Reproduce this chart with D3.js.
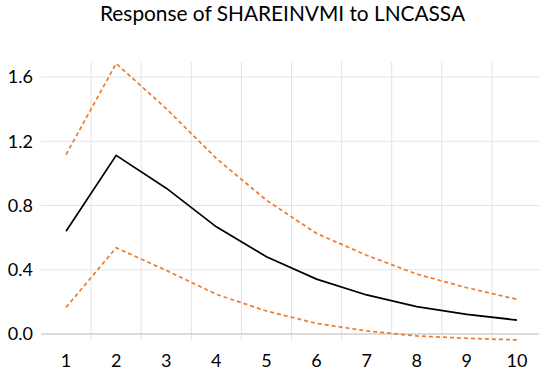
<!DOCTYPE html>
<html>
<head>
<meta charset="utf-8">
<script src="https://cdn.jsdelivr.net/npm/d3@7"></script>
<style>
  html, body { margin: 0; padding: 0; background: #fff; }
  svg { display: block; }
</style>
</head>
<body>
<svg id="chart" width="539" height="378"></svg>
<script>
const title = "Response of SHAREINVMI to LNCASSA";
const periods = [1, 2, 3, 4, 5, 6, 7, 8, 9, 10];
const response = [0.64, 1.112, 0.908, 0.667, 0.481, 0.342, 0.243, 0.170, 0.122, 0.087];
const upperBand = [1.117, 1.684, 1.403, 1.093, 0.833, 0.626, 0.490, 0.373, 0.288, 0.216];
const lowerBand = [0.166, 0.537, 0.396, 0.247, 0.143, 0.066, 0.019, -0.012, -0.027, -0.037];
const yTicks = [0.0, 0.4, 0.8, 1.2, 1.6];

const svg = d3.select("#chart");
const font = "Lato, 'Open Sans', sans-serif";

const x = d3.scaleBand().domain(periods).range([41, 542]).paddingInner(0).paddingOuter(0);
const xc = d => x(d) + x.bandwidth() / 2;
const y = d3.scaleLinear().domain([0, 1.6]).range([334, 77]);
const plotTop = 62;

// title
svg.append("text")
  .attr("x", 282.5).attr("y", 21)
  .attr("text-anchor", "middle")
  .attr("font-family", font)
  .attr("font-size", 22)
  .attr("fill", "#000")
  .attr("textLength", 365)
  .attr("lengthAdjust", "spacingAndGlyphs")
  .text(title);

// horizontal gridlines
svg.append("g").selectAll("line").data(yTicks.filter(t => t !== 0)).join("line")
  .attr("x1", 41).attr("x2", 539)
  .attr("y1", d => y(d)).attr("y2", d => y(d))
  .attr("stroke", "#e4e4e4").attr("stroke-width", 1);

// vertical gridlines at category boundaries (except first)
svg.append("g").selectAll("line").data(periods.slice(1)).join("line")
  .attr("x1", d => x(d)).attr("x2", d => x(d))
  .attr("y1", plotTop).attr("y2", 340)
  .attr("stroke", "#e4e4e4").attr("stroke-width", 1);

// zero axis line
svg.append("line")
  .attr("x1", 41).attr("x2", 539)
  .attr("y1", y(0)).attr("y2", y(0))
  .attr("stroke", "#cfcfcf").attr("stroke-width", 1.5);

// y tick labels
svg.append("g").selectAll("text").data(yTicks).join("text")
  .attr("x", 33).attr("y", d => y(d))
  .attr("dy", "0.36em")
  .attr("text-anchor", "end")
  .attr("font-family", font)
  .attr("font-size", 18)
  .attr("fill", "#000")
  .text(d => d3.format(".1f")(d));

// x tick labels
svg.append("g").selectAll("text").data(periods).join("text")
  .attr("x", d => xc(d)).attr("y", 367)
  .attr("text-anchor", "middle")
  .attr("font-family", font)
  .attr("font-size", 18)
  .attr("fill", "#000")
  .text(d => d);

const line = d3.line().x((d, i) => xc(periods[i])).y(d => y(d));

svg.append("path").datum(upperBand)
  .attr("d", line).attr("fill", "none")
  .attr("stroke", "#ED7D31").attr("stroke-width", 1.75)
  .attr("stroke-dasharray", "4,3");

svg.append("path").datum(lowerBand)
  .attr("d", line).attr("fill", "none")
  .attr("stroke", "#ED7D31").attr("stroke-width", 1.75)
  .attr("stroke-dasharray", "4,3");

svg.append("path").datum(response)
  .attr("d", line).attr("fill", "none")
  .attr("stroke", "#000").attr("stroke-width", 1.75)
  .attr("stroke-linejoin", "miter");
</script>
</body>
</html>
